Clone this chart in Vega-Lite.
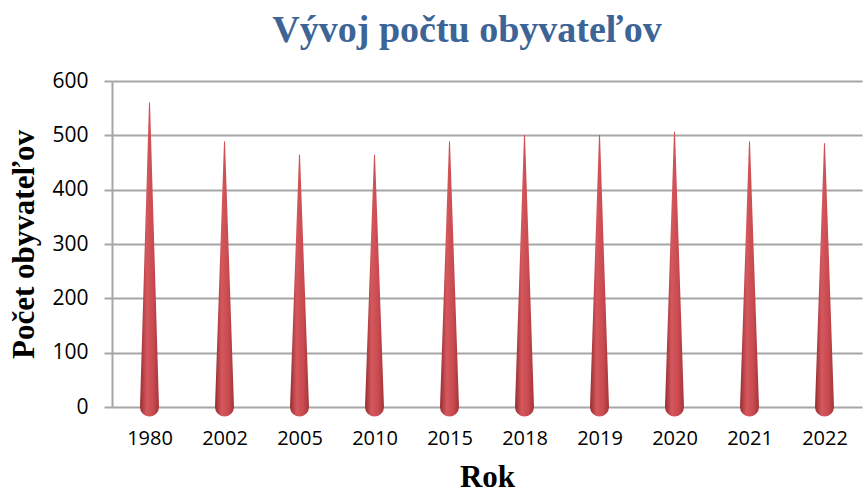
{
  "$schema": "https://vega.github.io/schema/vega-lite/v6.json",
  "width": 750,
  "height": 326,
  "autosize": {"type": "none"},
  "padding": {"left": 112, "top": 81, "right": 5, "bottom": 88},
  "background": "white",
  "title": {
    "text": "Vývoj počtu obyvateľov",
    "font": "Liberation Serif",
    "fontSize": 38,
    "fontWeight": "bold",
    "color": "#3c6496",
    "anchor": "middle",
    "offset": 20,
    "dx": -20
  },
  "data": {
    "values": [
      {"Rok": "1980", "Počet": 560, "Základ": 0},
      {"Rok": "2002", "Počet": 488, "Základ": 0},
      {"Rok": "2005", "Počet": 464, "Základ": 0},
      {"Rok": "2010", "Počet": 464, "Základ": 0},
      {"Rok": "2015", "Počet": 488, "Základ": 0},
      {"Rok": "2018", "Počet": 500, "Základ": 0},
      {"Rok": "2019", "Počet": 500, "Základ": 0},
      {"Rok": "2020", "Počet": 506, "Základ": 0},
      {"Rok": "2021", "Počet": 488, "Základ": 0},
      {"Rok": "2022", "Počet": 485, "Základ": 0}
    ]
  },
  "transform": [{"fold": ["Základ", "Počet"], "as": ["bod", "hodnota"]}],
  "mark": {
    "type": "trail",
    "color": {
      "gradient": "linear",
      "x1": 0, "y1": 0, "x2": 1, "y2": 0,
      "stops": [
        {"offset": 0, "color": "#962c31"},
        {"offset": 0.35, "color": "#d4585d"},
        {"offset": 0.7, "color": "#c94a50"},
        {"offset": 1, "color": "#a23538"}
      ]
    }
  },
  "encoding": {
    "x": {
      "field": "Rok",
      "type": "nominal",
      "scale": {"type": "point", "padding": 0.5},
      "axis": {
        "title": "Rok",
        "titleFont": "Liberation Serif",
        "titleFontSize": 31,
        "titleFontWeight": "bold",
        "titleColor": "black",
        "titlePadding": 14,
        "labelFont": "Open Sans",
        "labelFontSize": 20,
        "labelColor": "black",
        "labelAngle": 0,
        "labelPadding": 21,
        "ticks": false,
        "domain": false,
        "grid": false
      }
    },
    "y": {
      "field": "hodnota",
      "type": "quantitative",
      "scale": {"domain": [0, 600]},
      "axis": {
        "title": "Počet obyvateľov",
        "titleFont": "Liberation Serif",
        "titleFontSize": 31,
        "titleFontWeight": "bold",
        "titleColor": "black",
        "titleX": -72,
        "labelFont": "Open Sans",
        "labelFontSize": 21,
        "labelColor": "black",
        "labelPadding": 16,
        "values": [0, 100, 200, 300, 400, 500, 600],
        "tickSize": 8,
        "tickColor": "#a6a6a6",
        "tickWidth": 2,
        "domainColor": "#a6a6a6",
        "domainWidth": 2,
        "gridColor": "#a6a6a6",
        "gridWidth": 2
      }
    },
    "size": {
      "field": "bod",
      "type": "ordinal",
      "scale": {"domain": ["Základ", "Počet"], "range": [19, 1]},
      "legend": null
    },
    "detail": {"field": "Rok"},
    "order": {"field": "hodnota", "type": "quantitative"}
  },
  "config": {"view": {"stroke": null}}
}
